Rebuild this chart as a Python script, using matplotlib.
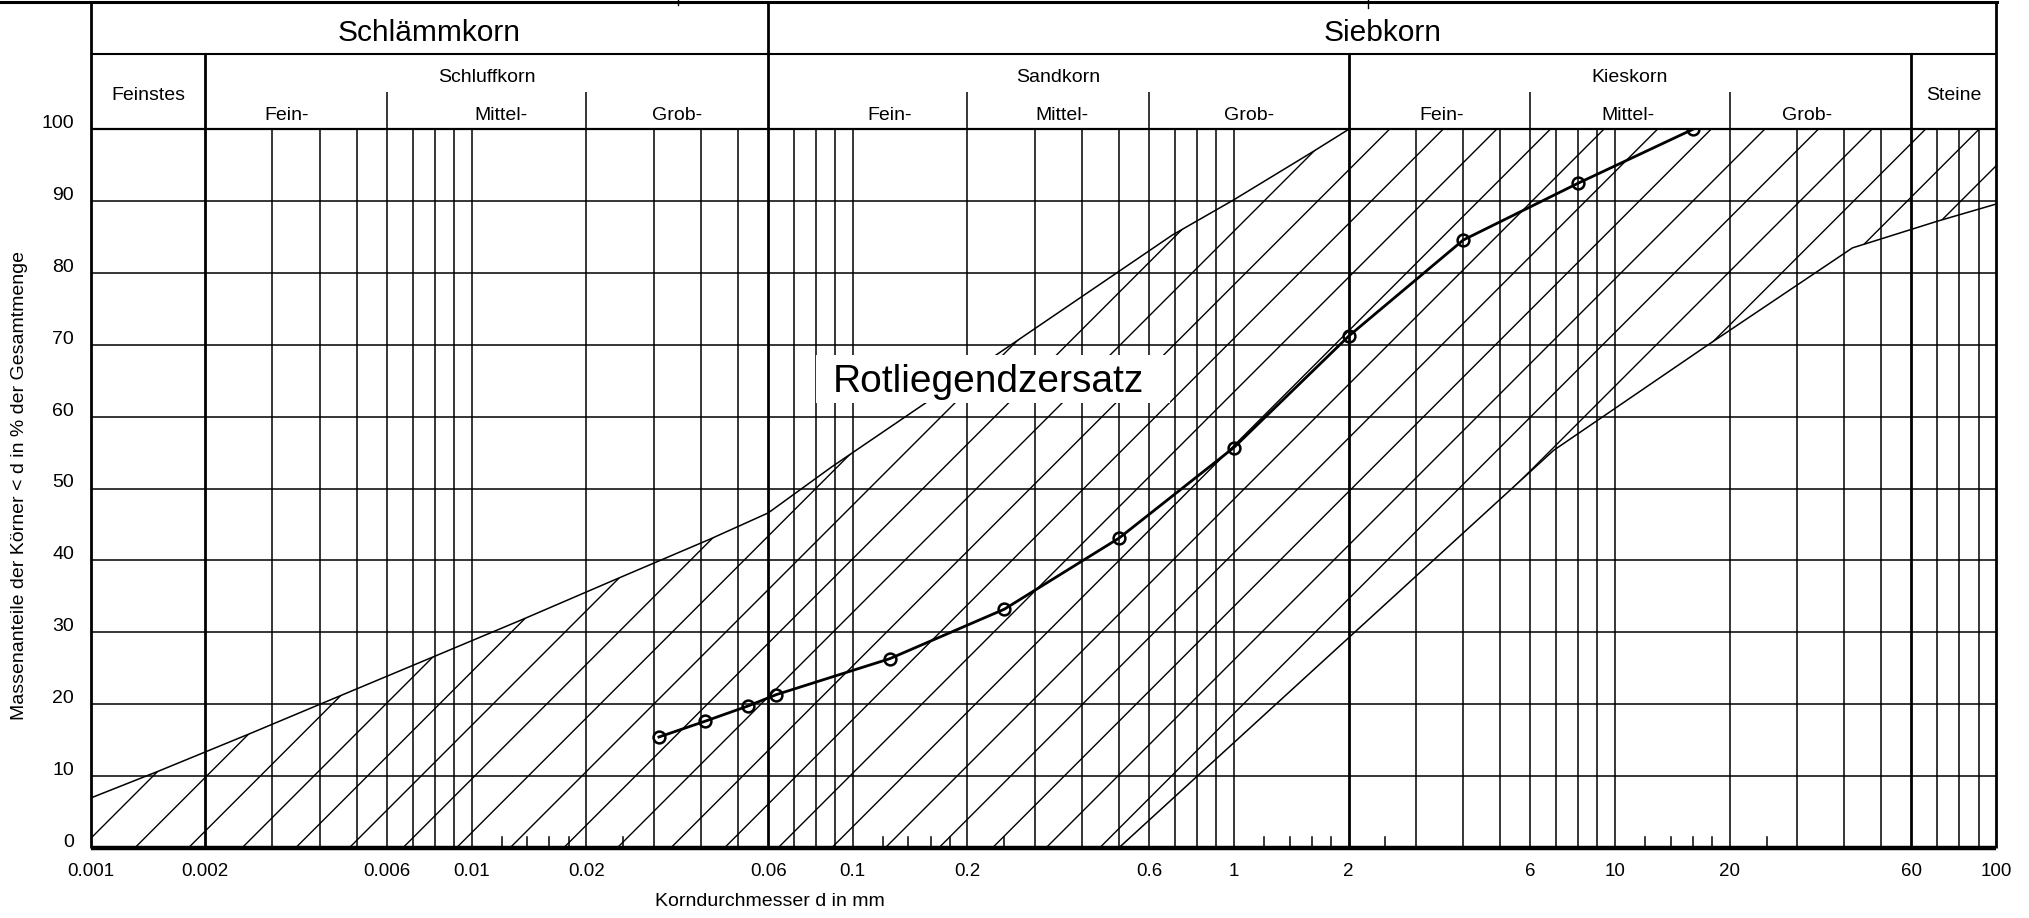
import numpy as np
import matplotlib
matplotlib.use('Agg')
import matplotlib.pyplot as plt
from matplotlib.collections import LineCollection
from matplotlib.patches import Polygon, Rectangle
from matplotlib.lines import Line2D

plt.rcParams['font.family'] = ['Liberation Sans', 'DejaVu Sans']

# Koernungslinie Rotliegendzersatz (Schlaemm- und Siebanalyse)
korn_d = [0.031, 0.041, 0.053, 0.063, 0.125, 0.25, 0.5, 1.0, 2.0, 4.0, 8.0, 16.0]
durchgang = [15.4, 17.6, 19.7, 21.3, 26.3, 33.2, 43.1, 55.7, 71.2, 84.6, 92.5, 100.0]

# Grenzlinien des schraffierten Bereichs
oben_d = [0.001, 0.0015, 0.0026, 0.0045, 0.0078, 0.0135, 0.024, 0.042, 0.06, 0.088, 0.69, 1.0, 1.59, 2.0]
oben_p = [6.9, 10.6, 15.8, 21.1, 26.4, 31.7, 37.4, 42.9, 46.6, 53.0, 85.3, 90.2, 96.7, 100.0]
unten_d = [0.5, 6.9, 17.0, 42.0, 70.0, 100.0]
unten_p = [0.0, 55.3, 69.5, 83.5, 87.2, 89.6]

x_ticks = [0.001, 0.002, 0.006, 0.01, 0.02, 0.06, 0.1, 0.2, 0.6, 1, 2, 6, 10, 20, 60, 100]
x_tick_labels = ['0.001', '0.002', '0.006', '0.01', '0.02', '0.06', '0.1', '0.2', '0.6',
                 '1', '2', '6', '10', '20', '60', '100']
y_ticks = [0, 10, 20, 30, 40, 50, 60, 70, 80, 90, 100]

# Kornfraktionen (Kopfzeilen)
haupt_grenzen = [0.002, 0.06, 2, 60]
unter_grenzen = [0.006, 0.02, 0.2, 0.6, 6, 20]
gruppen = [('Schlämmkorn', 0.001, 0.06), ('Siebkorn', 0.06, 100)]
fraktionen = [('Feinstes', 0.001, 0.002), ('Schluffkorn', 0.002, 0.06), ('Sandkorn', 0.06, 2),
              ('Kieskorn', 2, 60), ('Steine', 60, 100)]
unter_namen = ['Fein-', 'Mittel-', 'Grob-'] * 3
unter_pos = [0.00327, 0.0119, 0.0346, 0.125, 0.354, 1.095, 3.5, 10.8, 32.0]

W, H = 2029, 918
L, R, T, B = 90.6, 1996.0, 129.4, 847.6   # Diagrammrahmen in px

fig = plt.figure(figsize=(W / 100, H / 100), dpi=100)
ax = fig.add_axes([L / W, 1 - B / H, (R - L) / W, (B - T) / H])
ax.set_xscale('log')
ax.set_xlim(0.001, 100)
ax.set_ylim(0, 100)
ax.axis('off')


def ay(ypx):
    # Pixelzeile -> Achsenbruchteil
    return (B - ypx) / (B - T)


xt = ax.get_xaxis_transform()
yt = ax.get_yaxis_transform()

# Raster
lin = []
for dec in [0.001, 0.01, 0.1, 1, 10]:
    for m in range(1, 10):
        x = round(dec * m, 6)
        if x == 0.001 or x in haupt_grenzen:
            continue
        lin.append(x)
ax.vlines(lin, 0, 100, colors='k', lw=1.1, zorder=2)
ax.hlines(y_ticks[1:-1], 0.001, 100, colors='k', lw=1.1, zorder=2)
ax.hlines(100, 0.001, 100, colors='k', lw=1.6, zorder=2, clip_on=False)
ax.hlines(0, 0.001, 100, colors='k', lw=3.2, zorder=7, clip_on=False)

# Rahmen und Kopf
kw = dict(color='k', transform=xt, clip_on=False, solid_capstyle='butt')
ax.plot([0.001, 0.001], [0, ay(2)], lw=2.0, **kw)
ax.plot([100, 100], [0, ay(2)], lw=2.0, **kw)
ax.plot([0.001, 100], [ay(54), ay(54)], lw=1.5, **kw)
for g in haupt_grenzen:
    top = ay(2) if g == 0.06 else ay(54)
    ax.plot([g, g], [0, top], lw=2.0, zorder=3, **kw)
for g in unter_grenzen:
    ax.plot([g, g], [1, ay(92)], lw=1.1, **kw)
fig.add_artist(Line2D([0, 1997 / W], [1 - 1.5 / H, 1 - 1.5 / H], color='k', lw=2.2))
for xp, hgt in [(678, 5), (1368, 8)]:
    fig.add_artist(Line2D([xp / W, xp / W], [1, 1 - hgt / H], color='k', lw=1.0))

for name, a, b in gruppen:
    ax.text(np.sqrt(a * b), ay(40.7), name, transform=xt, ha='center', va='baseline',
            fontsize=21.5, clip_on=False)
for name, a, b in fraktionen:
    yb = ay(100) if name in ('Feinstes', 'Steine') else ay(81.7)
    ax.text(np.sqrt(a * b), yb, name, transform=xt, ha='center', va='baseline',
            fontsize=14, clip_on=False)
for name, xp in zip(unter_namen, unter_pos):
    ax.text(xp, ay(120), name, transform=xt, ha='center', va='baseline',
            fontsize=14, clip_on=False)

# Teilstriche am unteren Rand
for dec in [0.01, 0.1, 1, 10]:
    for m in [1.2, 1.4, 1.6, 1.8, 2.5]:
        ax.plot([dec * m, dec * m], [0, 11 / (B - T)], color='k', lw=1.1, transform=xt)

# Achsenbeschriftung
for x, lab in zip(x_ticks, x_tick_labels):
    ax.text(x, ay(875.5), lab, transform=xt, ha='center', va='baseline',
            fontsize=13.5, clip_on=False)
for y in y_ticks:
    ax.text(-16.6 / (R - L), y + 0.15, str(y), transform=yt, ha='right', va='baseline',
            fontsize=14, clip_on=False)
fig.text(20 / W, 1 - 485 / H, 'Massenanteile der Körner < d in % der Gesamtmenge',
         rotation=90, ha='center', va='center', fontsize=14)
fig.text(770 / W, 1 - 902 / H, 'Korndurchmesser d in mm', ha='center', va='center', fontsize=14)

# Schraffierter Bereich
verts = list(zip(oben_d, oben_p)) + [(100, 100)] + list(zip(unten_d, unten_p))[::-1] + [(0.001, 0)]
band = Polygon(verts, closed=True, facecolor='none', edgecolor='none', transform=ax.transData)
ax.add_patch(band)
wa, ha_ = R - L, B - T
step, x0 = 53.6, 135.1 - L
ks = np.arange(-int(ha_ / step) - 2, int(wa / step) + 2)
segs = [[((x0 + k * step) / wa, 0), ((x0 + k * step + ha_) / wa, 1)] for k in ks]
lc = LineCollection(segs, colors='k', linewidths=1.0, transform=ax.transAxes, zorder=3)
ax.add_collection(lc)
lc.set_clip_path(band)
ax.plot(oben_d, oben_p, color='k', lw=1.1, zorder=3)
ax.plot(unten_d, unten_p, color='k', lw=1.1, zorder=3)

# Beschriftung des Bereichs
ax.add_patch(Rectangle((0.08, 61.9), 0.68 - 0.08, 6.7, facecolor='white',
                       edgecolor='none', zorder=5))
ax.text(0.227, 63.5, 'Rotliegendzersatz', ha='center', va='baseline', fontsize=28, zorder=6)

# Koernungslinie
ax.plot(korn_d, durchgang, color='k', lw=2.0, marker='o', ms=8.5, mfc='none', mew=1.8, zorder=8)

fig.savefig('out.png', dpi=100, facecolor='white')
